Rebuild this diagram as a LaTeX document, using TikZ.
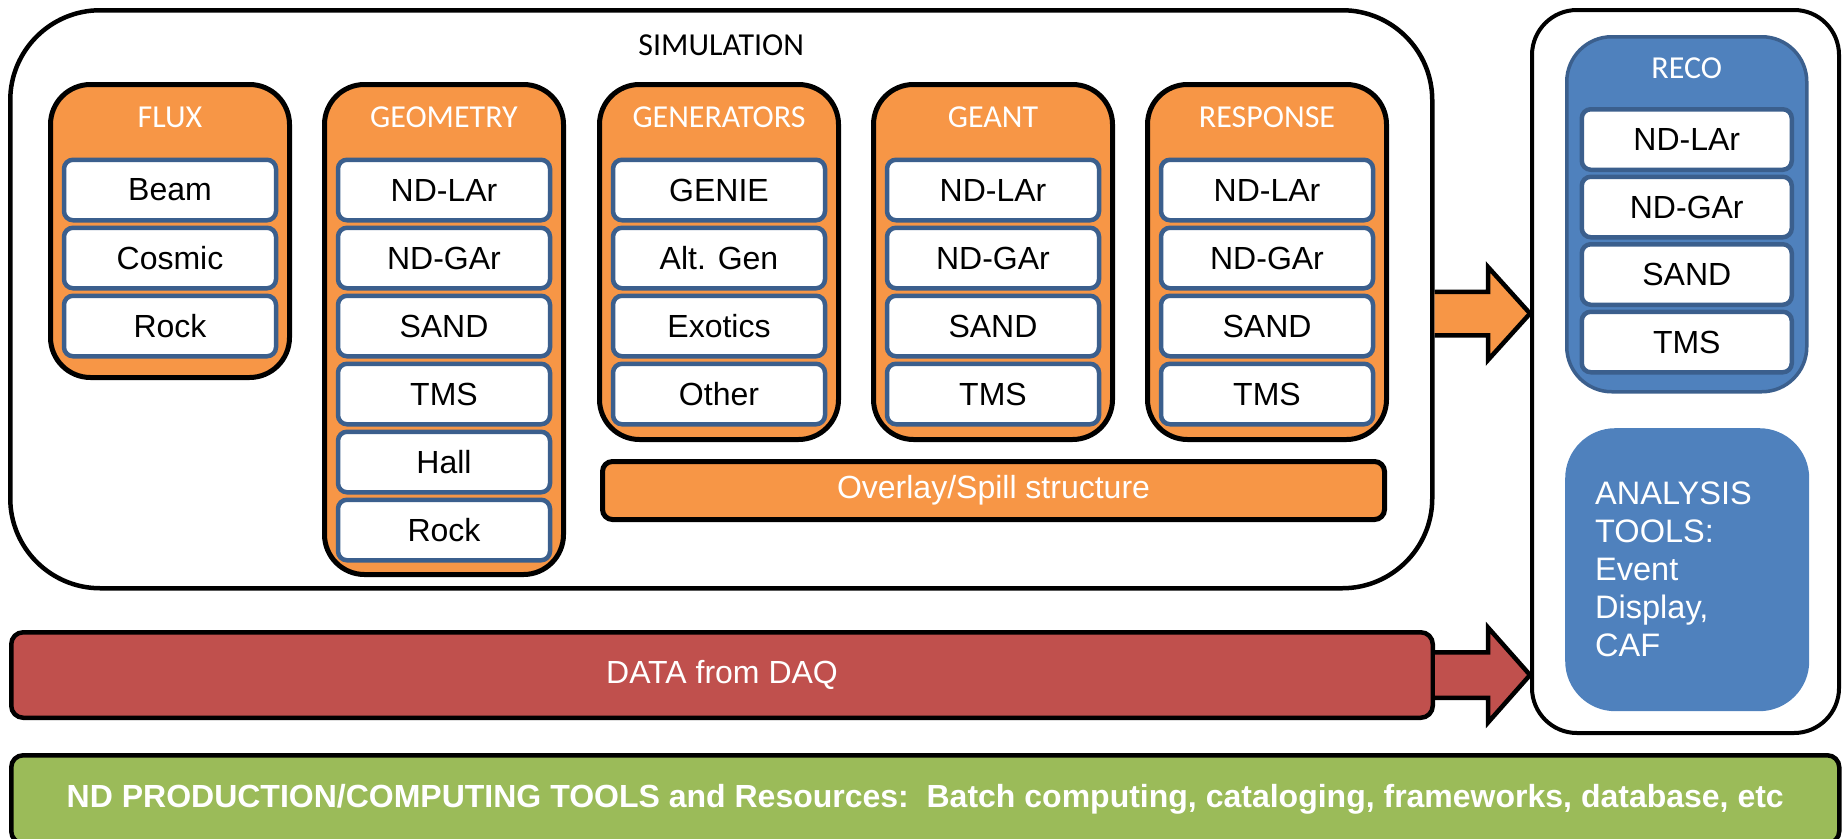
\documentclass[tikz,border=0pt]{standalone}
\usepackage{fontspec}
\setmainfont{Liberation Sans}
\newfontfamily\calibrifont{Carlito}
\usetikzlibrary{calc}

\definecolor{simorange}{HTML}{F79646}
\definecolor{itemblue}{HTML}{3B5F8D}
\definecolor{recoblue}{HTML}{4F81BD}
\definecolor{daqred}{HTML}{C0504D}
\definecolor{toolgreen}{HTML}{9BBB59}

\begin{document}
\begin{tikzpicture}[x=1pt,y=-1pt,
		panel/.style={draw=black,line width=5pt,fill=simorange,rounded corners=40pt,anchor=north west,minimum width=239pt},
		item/.style={draw=itemblue,line width=4.5pt,fill=white,rounded corners=9pt,minimum width=212pt,minimum height=60.5pt,inner sep=0pt,font=\fontsize{32}{37}\selectfont},
		title/.style={text=white,inner sep=0pt,font=\calibrifont\fontsize{32}{37}\selectfont},
		bar/.style={draw=black,line width=4.5pt,rounded corners=12pt,anchor=north west,text=white,font=\fontsize{32}{37}\selectfont},
		fatarrow/.style={draw=black,line width=4.5pt,line join=miter}]
	\useasboundingbox (0,0) rectangle (1843,838);
	% simulation chain
	\node[draw=black,line width=4.5pt,rounded corners=90pt,anchor=north west,minimum width=1422pt,minimum height=578pt] (sim) at (8,8) {};
	\node[inner sep=0pt,font=\calibrifont\fontsize{32}{37}\selectfont] (sim-title) at (sim.north |- 0,45) {SIMULATION};
	\node[panel,minimum height=293pt] (flux) at (48,82) {};
	\node[panel,minimum height=490pt] (geom) at (322,82) {};
	\node[panel,minimum height=355pt] (gen) at (597,82) {};
	\node[panel,minimum height=355pt] (geant) at (871,82) {};
	\node[panel,minimum height=355pt] (resp) at (1145,82) {};
	\foreach \p/\t in {flux/FLUX,geom/GEOMETRY,gen/GENERATORS,geant/GEANT,resp/RESPONSE}
		\node[title] (\p-title) at (\p.north |- 0,117.5) {\t};
	\foreach \t [count=\i from 0, evaluate=\i as \yy using 190+68*\i] in {Beam,Cosmic,Rock}
		\node[item] (flux-\i) at (flux.north |- 0,\yy) {\t};
	\foreach \t [count=\i from 0, evaluate=\i as \yy using 190+68*\i] in {ND-LAr,ND-GAr,SAND,TMS,Hall,Rock}
		\node[item] (geom-\i) at (geom.north |- 0,\yy) {\t};
	\foreach \t [count=\i from 0, evaluate=\i as \yy using 190+68*\i] in {GENIE,Alt. Gen,Exotics,Other}
		\node[item] (gen-\i) at (gen.north |- 0,\yy) {\t};
	\foreach \t [count=\i from 0, evaluate=\i as \yy using 190+68*\i] in {ND-LAr,ND-GAr,SAND,TMS}
		\node[item] (geant-\i) at (geant.north |- 0,\yy) {\t};
	\foreach \t [count=\i from 0, evaluate=\i as \yy using 190+68*\i] in {ND-LAr,ND-GAr,SAND,TMS}
		\node[item] (resp-\i) at (resp.north |- 0,\yy) {\t};
	\node[bar,fill=simorange,line width=5pt,rounded corners=10pt,minimum width=782pt,minimum height=58pt] (overlay) at (600,459) {Overlay/Spill structure};
	% reconstruction and analysis
	\node[draw=black,line width=4pt,rounded corners=45pt,anchor=north west,minimum width=307pt,minimum height=723pt] (post) at (1530,8) {};
	\node[draw=itemblue,line width=3.5pt,fill=recoblue,rounded corners=45pt,anchor=north west,minimum width=240pt,minimum height=355pt] (reco) at (1565,35) {};
	\node[title] (reco-title) at (reco.north |- 0,68) {RECO};
	\foreach \t [count=\i from 0, evaluate=\i as \yy using 139.5+67.5*\i] in {ND-LAr,ND-GAr,SAND,TMS}
		\node[item,minimum width=210pt] (reco-\i) at (reco.north |- 0,\yy) {\t};
	\node[fill=recoblue,rounded corners=50pt,anchor=north west,minimum width=244pt,minimum height=283pt,text width=184pt,align=left,text=white,font=\fontsize{32.5}{38}\selectfont] (tools) at (1565,428) {ANALYSIS\\TOOLS:\\Event\\Display,\\CAF};
	% data and resources
	\node[bar,fill=daqred,minimum width=1421.5pt,minimum height=85.5pt] (daq) at (9,630) {DATA from DAQ};
	\node[bar,fill=toolgreen,minimum width=1828pt,minimum height=88pt,font=\bfseries\fontsize{32}{38}\selectfont] (prod) at (9,753) {ND PRODUCTION/COMPUTING TOOLS and Resources:\ \ Batch computing, cataloging, frameworks, database, etc};
	% arrows into reco
	\coordinate (tipA) at (post.west |- 0,313.5);
	\coordinate (tipB) at (post.west |- daq.east);
	\filldraw[fatarrow,fill=simorange] ($(sim.east |- tipA)+(0,-21.75)$) -- ($(tipA)+(-42,-21.75)$) -- ($(tipA)+(-42,-46.5)$) -- (tipA) -- ($(tipA)+(-42,46.5)$) -- ($(tipA)+(-42,21.75)$) -- ($(sim.east |- tipA)+(0,21.75)$);
	\filldraw[fatarrow,fill=daqred] ($(daq.east)+(0,-22.75)$) -- ($(tipB)+(-42,-22.75)$) -- ($(tipB)+(-42,-47.5)$) -- (tipB) -- ($(tipB)+(-42,47.5)$) -- ($(tipB)+(-42,22.75)$) -- ($(daq.east)+(0,22.75)$);
\end{tikzpicture}
\end{document}
